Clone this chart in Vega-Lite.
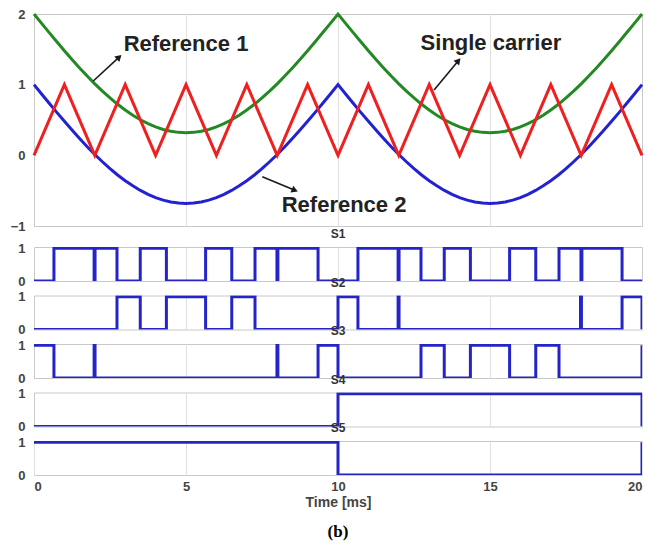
{
  "$schema": "https://vega.github.io/schema/vega-lite/v6.json",
  "padding": {"left": 9, "top": 7, "right": 5, "bottom": 2},
  "bounds": "flush",
  "spacing": 21,
  "background": "white",
  "title": {"text": "(b)", "orient": "bottom", "anchor": "middle", "frame": "group", "font": "Liberation Serif", "fontSize": 17, "fontWeight": "bold", "color": "#000000", "offset": 14},
  "config": {
    "view": {"stroke": "#c8c8c8", "strokeWidth": 1},
    "axis": {
      "labelFont": "Liberation Sans", "labelFontSize": 13, "labelFontWeight": "bold", "labelColor": "#444444", "format": "d",
      "ticks": false, "domain": false, "gridColor": "#e0e0e0", "gridWidth": 1,
      "titleFont": "Liberation Sans", "titleFontSize": 14, "titleFontWeight": "bold", "titleColor": "#444444"
    },
    "title": {"font": "Liberation Sans", "fontSize": 12, "fontWeight": "bold", "color": "#333333", "offset": 1}
  },
  "datasets": {
    "refs": [
      {"t": 0, "r1": 2, "r2": 1}, {"t": 0.25, "r1": 1.868, "r2": 0.868}, {"t": 0.5, "r1": 1.737, "r2": 0.737}, {"t": 0.75, "r1": 1.608, "r2": 0.608},
      {"t": 1, "r1": 1.481, "r2": 0.481}, {"t": 1.25, "r1": 1.357, "r2": 0.357}, {"t": 1.5, "r1": 1.237, "r2": 0.237}, {"t": 1.75, "r1": 1.122, "r2": 0.122},
      {"t": 2, "r1": 1.012, "r2": 0.012}, {"t": 2.25, "r1": 0.909, "r2": -0.091}, {"t": 2.5, "r1": 0.812, "r2": -0.188}, {"t": 2.75, "r1": 0.722, "r2": -0.278},
      {"t": 3, "r1": 0.641, "r2": -0.359}, {"t": 3.25, "r1": 0.568, "r2": -0.432}, {"t": 3.5, "r1": 0.503, "r2": -0.497}, {"t": 3.75, "r1": 0.448, "r2": -0.552},
      {"t": 4, "r1": 0.402, "r2": -0.598}, {"t": 4.25, "r1": 0.366, "r2": -0.634}, {"t": 4.5, "r1": 0.341, "r2": -0.659}, {"t": 4.75, "r1": 0.325, "r2": -0.675},
      {"t": 5, "r1": 0.32, "r2": -0.68},
      {"t": 5.25, "r1": 0.325, "r2": -0.675}, {"t": 5.5, "r1": 0.341, "r2": -0.659}, {"t": 5.75, "r1": 0.366, "r2": -0.634}, {"t": 6, "r1": 0.402, "r2": -0.598},
      {"t": 6.25, "r1": 0.448, "r2": -0.552}, {"t": 6.5, "r1": 0.503, "r2": -0.497}, {"t": 6.75, "r1": 0.568, "r2": -0.432}, {"t": 7, "r1": 0.641, "r2": -0.359},
      {"t": 7.25, "r1": 0.722, "r2": -0.278}, {"t": 7.5, "r1": 0.812, "r2": -0.188}, {"t": 7.75, "r1": 0.909, "r2": -0.091}, {"t": 8, "r1": 1.012, "r2": 0.012},
      {"t": 8.25, "r1": 1.122, "r2": 0.122}, {"t": 8.5, "r1": 1.237, "r2": 0.237}, {"t": 8.75, "r1": 1.357, "r2": 0.357}, {"t": 9, "r1": 1.481, "r2": 0.481},
      {"t": 9.25, "r1": 1.608, "r2": 0.608}, {"t": 9.5, "r1": 1.737, "r2": 0.737}, {"t": 9.75, "r1": 1.868, "r2": 0.868},
      {"t": 10, "r1": 2, "r2": 1}, {"t": 10.25, "r1": 1.868, "r2": 0.868}, {"t": 10.5, "r1": 1.737, "r2": 0.737}, {"t": 10.75, "r1": 1.608, "r2": 0.608},
      {"t": 11, "r1": 1.481, "r2": 0.481}, {"t": 11.25, "r1": 1.357, "r2": 0.357}, {"t": 11.5, "r1": 1.237, "r2": 0.237}, {"t": 11.75, "r1": 1.122, "r2": 0.122},
      {"t": 12, "r1": 1.012, "r2": 0.012}, {"t": 12.25, "r1": 0.909, "r2": -0.091}, {"t": 12.5, "r1": 0.812, "r2": -0.188}, {"t": 12.75, "r1": 0.722, "r2": -0.278},
      {"t": 13, "r1": 0.641, "r2": -0.359}, {"t": 13.25, "r1": 0.568, "r2": -0.432}, {"t": 13.5, "r1": 0.503, "r2": -0.497}, {"t": 13.75, "r1": 0.448, "r2": -0.552},
      {"t": 14, "r1": 0.402, "r2": -0.598}, {"t": 14.25, "r1": 0.366, "r2": -0.634}, {"t": 14.5, "r1": 0.341, "r2": -0.659}, {"t": 14.75, "r1": 0.325, "r2": -0.675},
      {"t": 15, "r1": 0.32, "r2": -0.68},
      {"t": 15.25, "r1": 0.325, "r2": -0.675}, {"t": 15.5, "r1": 0.341, "r2": -0.659}, {"t": 15.75, "r1": 0.366, "r2": -0.634}, {"t": 16, "r1": 0.402, "r2": -0.598},
      {"t": 16.25, "r1": 0.448, "r2": -0.552}, {"t": 16.5, "r1": 0.503, "r2": -0.497}, {"t": 16.75, "r1": 0.568, "r2": -0.432}, {"t": 17, "r1": 0.641, "r2": -0.359},
      {"t": 17.25, "r1": 0.722, "r2": -0.278}, {"t": 17.5, "r1": 0.812, "r2": -0.188}, {"t": 17.75, "r1": 0.909, "r2": -0.091}, {"t": 18, "r1": 1.012, "r2": 0.012},
      {"t": 18.25, "r1": 1.122, "r2": 0.122}, {"t": 18.5, "r1": 1.237, "r2": 0.237}, {"t": 18.75, "r1": 1.357, "r2": 0.357}, {"t": 19, "r1": 1.481, "r2": 0.481},
      {"t": 19.25, "r1": 1.608, "r2": 0.608}, {"t": 19.5, "r1": 1.737, "r2": 0.737}, {"t": 19.75, "r1": 1.868, "r2": 0.868},
      {"t": 20, "r1": 2, "r2": 1}
    ],
    "carrier": [
      {"t": 0, "c": 0}, {"t": 1, "c": 1}, {"t": 2, "c": 0}, {"t": 3, "c": 1}, {"t": 4, "c": 0}, {"t": 5, "c": 1}, {"t": 6, "c": 0},
      {"t": 7, "c": 1}, {"t": 8, "c": 0}, {"t": 9, "c": 1}, {"t": 10, "c": 0}, {"t": 11, "c": 1}, {"t": 12, "c": 0}, {"t": 13, "c": 1},
      {"t": 14, "c": 0}, {"t": 15, "c": 1}, {"t": 16, "c": 0}, {"t": 17, "c": 1}, {"t": 18, "c": 0}, {"t": 19, "c": 1}, {"t": 20, "c": 0}
    ],
    "notes": [
      {"label": "Reference 1", "t": 5.0, "v": 1.575},
      {"label": "Single carrier", "t": 15.03, "v": 1.59},
      {"label": "Reference 2", "t": 10.2, "v": -0.703}
    ],
    "arrows": [
      {"name": "ref1", "t0": 1.95, "v0": 1.052, "t1": 2.8, "v1": 1.39},
      {"name": "carrier", "t0": 13.16, "v0": 0.925, "t1": 13.96, "v1": 1.34},
      {"name": "ref2", "t0": 7.51, "v0": -0.302, "t1": 8.58, "v1": -0.495}
    ],
    "switching": [
      {"sig": "S1", "t": 0, "s": 0}, {"sig": "S1", "t": 0.656, "s": 1}, {"sig": "S1", "t": 1.977, "s": 0}, {"sig": "S1", "t": 2.008, "s": 1},
      {"sig": "S1", "t": 2.73, "s": 0}, {"sig": "S1", "t": 3.495, "s": 1}, {"sig": "S1", "t": 4.355, "s": 0}, {"sig": "S1", "t": 5.645, "s": 1},
      {"sig": "S1", "t": 6.505, "s": 0}, {"sig": "S1", "t": 7.27, "s": 1}, {"sig": "S1", "t": 7.992, "s": 0}, {"sig": "S1", "t": 8.023, "s": 1},
      {"sig": "S1", "t": 9.344, "s": 0}, {"sig": "S1", "t": 10.656, "s": 1}, {"sig": "S1", "t": 11.977, "s": 0}, {"sig": "S1", "t": 12.008, "s": 1},
      {"sig": "S1", "t": 12.73, "s": 0}, {"sig": "S1", "t": 13.495, "s": 1}, {"sig": "S1", "t": 14.355, "s": 0}, {"sig": "S1", "t": 15.645, "s": 1},
      {"sig": "S1", "t": 16.505, "s": 0}, {"sig": "S1", "t": 17.27, "s": 1}, {"sig": "S1", "t": 17.992, "s": 0}, {"sig": "S1", "t": 18.023, "s": 1},
      {"sig": "S1", "t": 19.344, "s": 0}, {"sig": "S1", "t": 20, "s": 0},

      {"sig": "S2", "t": 0, "s": 0}, {"sig": "S2", "t": 2.73, "s": 1}, {"sig": "S2", "t": 3.495, "s": 0}, {"sig": "S2", "t": 4.355, "s": 1},
      {"sig": "S2", "t": 5.645, "s": 0}, {"sig": "S2", "t": 6.505, "s": 1}, {"sig": "S2", "t": 7.27, "s": 0}, {"sig": "S2", "t": 10, "s": 1},
      {"sig": "S2", "t": 10.656, "s": 0}, {"sig": "S2", "t": 11.977, "s": 1}, {"sig": "S2", "t": 12.008, "s": 0}, {"sig": "S2", "t": 17.977, "s": 1},
      {"sig": "S2", "t": 18.008, "s": 0}, {"sig": "S2", "t": 19.344, "s": 1}, {"sig": "S2", "t": 20, "s": 0},

      {"sig": "S3", "t": 0, "s": 1}, {"sig": "S3", "t": 0.656, "s": 0}, {"sig": "S3", "t": 1.977, "s": 1}, {"sig": "S3", "t": 2.008, "s": 0},
      {"sig": "S3", "t": 7.992, "s": 1}, {"sig": "S3", "t": 8.023, "s": 0}, {"sig": "S3", "t": 9.344, "s": 1}, {"sig": "S3", "t": 10, "s": 0},
      {"sig": "S3", "t": 12.73, "s": 1}, {"sig": "S3", "t": 13.495, "s": 0}, {"sig": "S3", "t": 14.355, "s": 1}, {"sig": "S3", "t": 15.645, "s": 0},
      {"sig": "S3", "t": 16.505, "s": 1}, {"sig": "S3", "t": 17.27, "s": 0}, {"sig": "S3", "t": 20, "s": 1},

      {"sig": "S4", "t": 0, "s": 0}, {"sig": "S4", "t": 10, "s": 1}, {"sig": "S4", "t": 20, "s": 0},

      {"sig": "S5", "t": 0, "s": 1}, {"sig": "S5", "t": 10, "s": 0}, {"sig": "S5", "t": 20, "s": 1}
    ]
  },
  "vconcat": [
    {
      "width": 608,
      "height": 212,
      "encoding": {
        "x": {"type": "quantitative", "scale": {"domain": [0, 20], "nice": false},
              "axis": {"title": null, "labels": false, "values": [5, 10, 15], "grid": true}}
      },
      "layer": [
        {
          "data": {"name": "refs"},
          "mark": {"type": "line", "color": "#238a23", "strokeWidth": 3},
          "encoding": {
            "x": {"field": "t", "type": "quantitative"},
            "y": {"field": "r1", "type": "quantitative", "scale": {"domain": [-1, 2], "nice": false, "zero": false},
                  "axis": {"title": null, "values": [-1, 0, 1, 2], "grid": false, "labelPadding": 9}}
          }
        },
        {
          "data": {"name": "refs"},
          "mark": {"type": "line", "color": "#2222d0", "strokeWidth": 3},
          "encoding": {
            "x": {"field": "t", "type": "quantitative"},
            "y": {"field": "r2", "type": "quantitative"}
          }
        },
        {
          "data": {"name": "carrier"},
          "mark": {"type": "line", "color": "#ee2020", "strokeWidth": 3},
          "encoding": {
            "x": {"field": "t", "type": "quantitative"},
            "y": {"field": "c", "type": "quantitative"}
          }
        },
        {
          "data": {"name": "arrows"},
          "mark": {"type": "rule", "color": "#1a1a1a", "strokeWidth": 1.6},
          "encoding": {
            "x": {"field": "t0", "type": "quantitative"},
            "y": {"field": "v0", "type": "quantitative"},
            "x2": {"field": "t1"},
            "y2": {"field": "v1"}
          }
        },
        {
          "data": {"name": "arrows"},
          "transform": [{"filter": "datum.name === 'ref1'"}],
          "mark": {"type": "point", "shape": "triangle-up", "filled": true, "color": "#1a1a1a", "size": 55, "angle": 47, "opacity": 1},
          "encoding": {
            "x": {"field": "t1", "type": "quantitative"},
            "y": {"field": "v1", "type": "quantitative"}
          }
        },
        {
          "data": {"name": "arrows"},
          "transform": [{"filter": "datum.name === 'carrier'"}],
          "mark": {"type": "point", "shape": "triangle-up", "filled": true, "color": "#1a1a1a", "size": 55, "angle": 40, "opacity": 1},
          "encoding": {
            "x": {"field": "t1", "type": "quantitative"},
            "y": {"field": "v1", "type": "quantitative"}
          }
        },
        {
          "data": {"name": "arrows"},
          "transform": [{"filter": "datum.name === 'ref2'"}],
          "mark": {"type": "point", "shape": "triangle-up", "filled": true, "color": "#1a1a1a", "size": 55, "angle": 113, "opacity": 1},
          "encoding": {
            "x": {"field": "t1", "type": "quantitative"},
            "y": {"field": "v1", "type": "quantitative"}
          }
        },
        {
          "data": {"name": "notes"},
          "mark": {"type": "text", "font": "Liberation Sans", "fontSize": 22, "fontWeight": "bold", "color": "#222222", "align": "center", "baseline": "middle"},
          "encoding": {
            "x": {"field": "t", "type": "quantitative"},
            "y": {"field": "v", "type": "quantitative"},
            "text": {"field": "label"}
          }
        }
      ]
    },
    {
      "bounds": "flush",
      "spacing": 14.5,
      "vconcat": [
        {
          "width": 608, "height": 34,
          "title": {"text": "S1"},
          "data": {"name": "switching"},
          "transform": [{"filter": "datum.sig === 'S1'"}],
          "mark": {"type": "line", "interpolate": "step-after", "clip": true, "color": "#2424c8", "strokeWidth": 3},
          "encoding": {
            "x": {"field": "t", "type": "quantitative", "scale": {"domain": [0, 20], "nice": false},
                  "axis": {"title": null, "labels": false, "values": [5, 10, 15], "grid": true}},
            "y": {"field": "s", "type": "quantitative", "scale": {"domain": [0, 1.04], "nice": false},
                  "axis": {"title": null, "values": [0, 1], "grid": false, "labelPadding": 9}},
            "order": {"value": null}
          }
        },
        {
          "width": 608, "height": 34,
          "title": {"text": "S2"},
          "data": {"name": "switching"},
          "transform": [{"filter": "datum.sig === 'S2'"}],
          "mark": {"type": "line", "interpolate": "step-after", "clip": true, "color": "#2424c8", "strokeWidth": 3},
          "encoding": {
            "x": {"field": "t", "type": "quantitative", "scale": {"domain": [0, 20], "nice": false},
                  "axis": {"title": null, "labels": false, "values": [5, 10, 15], "grid": true}},
            "y": {"field": "s", "type": "quantitative", "scale": {"domain": [0, 1.04], "nice": false},
                  "axis": {"title": null, "values": [0, 1], "grid": false, "labelPadding": 9}},
            "order": {"value": null}
          }
        },
        {
          "width": 608, "height": 34,
          "title": {"text": "S3"},
          "data": {"name": "switching"},
          "transform": [{"filter": "datum.sig === 'S3'"}],
          "mark": {"type": "line", "interpolate": "step-after", "clip": true, "color": "#2424c8", "strokeWidth": 3},
          "encoding": {
            "x": {"field": "t", "type": "quantitative", "scale": {"domain": [0, 20], "nice": false},
                  "axis": {"title": null, "labels": false, "values": [5, 10, 15], "grid": true}},
            "y": {"field": "s", "type": "quantitative", "scale": {"domain": [0, 1.04], "nice": false},
                  "axis": {"title": null, "values": [0, 1], "grid": false, "labelPadding": 9}},
            "order": {"value": null}
          }
        },
        {
          "width": 608, "height": 34,
          "title": {"text": "S4"},
          "data": {"name": "switching"},
          "transform": [{"filter": "datum.sig === 'S4'"}],
          "mark": {"type": "line", "interpolate": "step-after", "clip": true, "color": "#2424c8", "strokeWidth": 3},
          "encoding": {
            "x": {"field": "t", "type": "quantitative", "scale": {"domain": [0, 20], "nice": false},
                  "axis": {"title": null, "labels": false, "values": [5, 10, 15], "grid": true}},
            "y": {"field": "s", "type": "quantitative", "scale": {"domain": [0, 1.04], "nice": false},
                  "axis": {"title": null, "values": [0, 1], "grid": false, "labelPadding": 9}},
            "order": {"value": null}
          }
        },
        {
          "width": 608, "height": 34,
          "title": {"text": "S5"},
          "data": {"name": "switching"},
          "transform": [{"filter": "datum.sig === 'S5'"}],
          "mark": {"type": "line", "interpolate": "step-after", "clip": true, "color": "#2424c8", "strokeWidth": 3},
          "encoding": {
            "x": {"field": "t", "type": "quantitative", "scale": {"domain": [0, 20], "nice": false},
                  "axis": {"title": "Time [ms]", "labels": true, "values": [0, 5, 10, 15, 20], "grid": true, "labelPadding": 5, "titlePadding": 2}},
            "y": {"field": "s", "type": "quantitative", "scale": {"domain": [0, 1.04], "nice": false},
                  "axis": {"title": null, "values": [0, 1], "grid": false, "labelPadding": 9}},
            "order": {"value": null}
          }
        }
      ]
    }
  ]
}
